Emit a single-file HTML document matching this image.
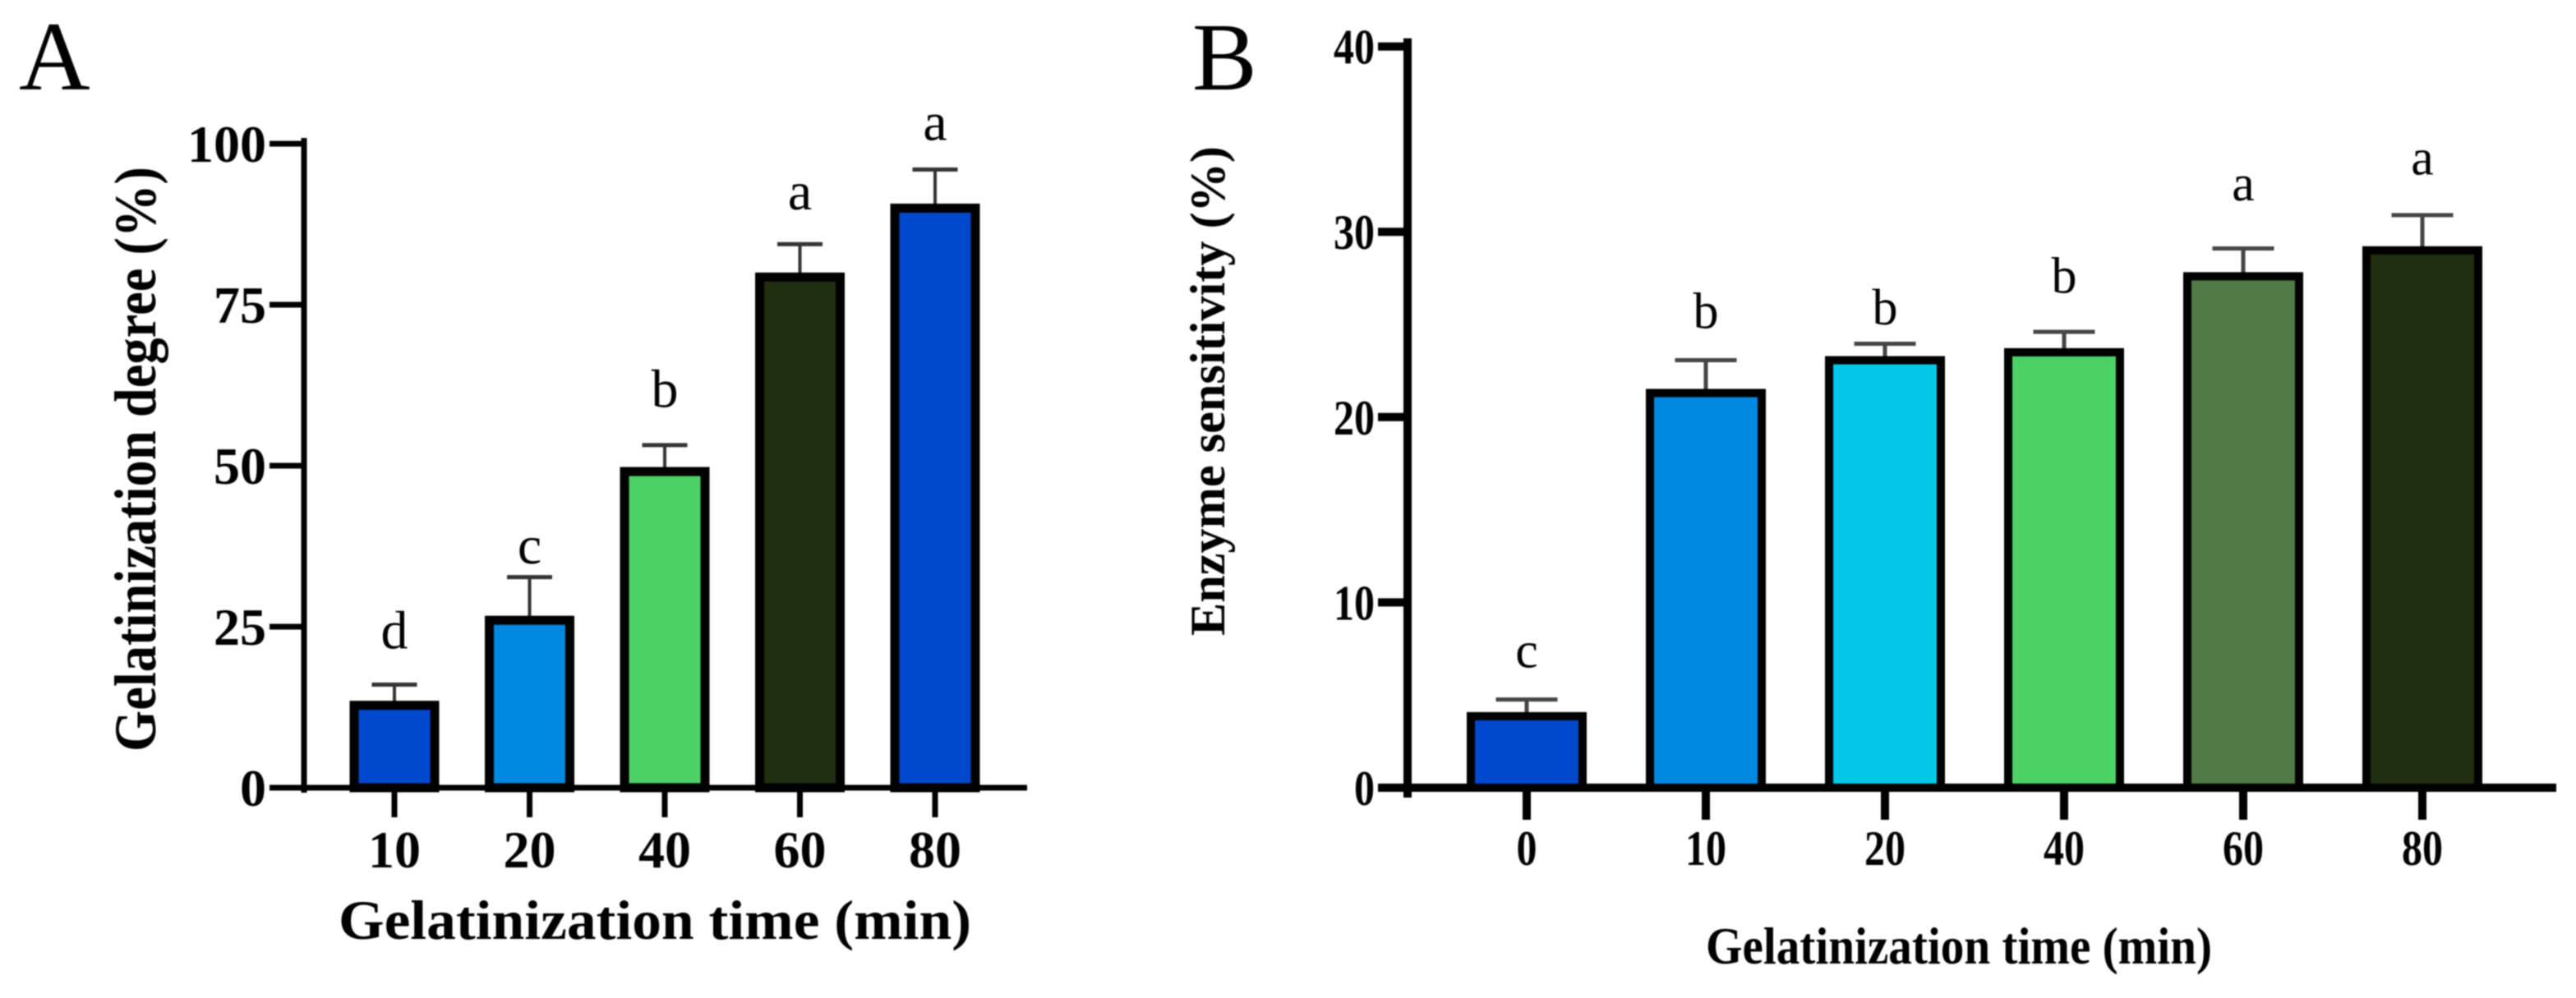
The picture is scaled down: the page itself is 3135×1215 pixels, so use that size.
<!DOCTYPE html>
<html lang="en">
<head>
<meta charset="utf-8">
<title>Gelatinization charts</title>
<style>
  html, body { margin: 0; padding: 0; background: #fff; }
  body { width: 3135px; height: 1215px; overflow: hidden; }
  svg { display: block; filter: blur(0.9px); }
  text { font-family: "Liberation Serif", "Times New Roman", serif; fill: #000; }
  .bold { font-weight: bold; }
</style>
</head>
<body>
<svg id="figure" xmlns="http://www.w3.org/2000/svg" width="3135" height="1215" viewBox="0 0 3135 1215">
  <rect x="0" y="0" width="3135" height="1215" fill="#fff"/>

  <g id="panel-a"></g>
  <g id="panel-b"></g>

  <text x="23" y="109" font-size="120">A</text>
  <text x="1451" y="109" font-size="118">B</text>

  <text class="bold" x="412" y="1143" font-size="68" textLength="770" lengthAdjust="spacingAndGlyphs">Gelatinization time (min)</text>
  <text class="bold" transform="translate(189 915) rotate(-90)" x="0" y="0" font-size="72" textLength="712" lengthAdjust="spacingAndGlyphs">Gelatinization degree (%)</text>

  <text class="bold" x="2076" y="1173" font-size="64" textLength="616" lengthAdjust="spacingAndGlyphs">Gelatinization time (min)</text>
  <text class="bold" transform="translate(1490 774) rotate(-90)" x="0" y="0" font-size="60" textLength="596" lengthAdjust="spacingAndGlyphs">Enzyme sensitivity (%)</text>
</svg>

<script>
// Panel A data
const categoriesA = ['10', '20', '40', '60', '80'];
const valuesA = [12.8, 26.0, 49.1, 79.3, 90.0];
const errorTopsA = [16.0, 32.7, 53.2, 84.4, 96.0];
const lettersA = ['d', 'c', 'b', 'a', 'a'];
const letterLevelsA = [21.6, 34.8, 59.1, 89.8, 100.6];
const colorsA = ['#0049CC', '#0089E0', '#4BD165', '#202F10', '#0049CC'];
const yTicksA = [0, 25, 50, 75, 100];

// Panel B data
const categoriesB = ['0', '10', '20', '40', '60', '80'];
const valuesB = [3.86, 21.3, 23.07, 23.5, 27.6, 29.0];
const errorTopsB = [4.76, 23.07, 23.96, 24.6, 29.1, 30.9];
const lettersB = ['c', 'b', 'b', 'b', 'a', 'a'];
const letterLevelsB = [6.5, 24.8, 25.0, 26.7, 31.7, 33.1];
const colorsB = ['#0049CC', '#0089E0', '#00C8E6', '#4BD165', '#4F7B45', '#202F10'];
const yTicksB = [0, 10, 20, 30, 40];

const SVG_NS = 'http://www.w3.org/2000/svg';

function make(parent, tag, attrs, content) {
  const el = document.createElementNS(SVG_NS, tag);
  for (const k in attrs) el.setAttribute(k, attrs[k]);
  if (content !== undefined) el.textContent = content;
  parent.appendChild(el);
  return el;
}

function drawPanel(root, prefix, cats, vals, tops, letters, levels, colors, ticks, g) {
  const xScale = i => g.x0 + g.step * i;
  const yScale = v => g.y0 - g.pxPerUnit * v;

  cats.forEach((cat, i) => {
    const cx = xScale(i);
    const yTop = yScale(vals[i]);
    const yErr = yScale(tops[i]);

    const stem = make(root, 'line', { x1: cx, x2: cx, y1: yErr, y2: yTop, stroke: g.errColor, 'stroke-width': g.stemW });
    
    

    const cap = make(root, 'line', { x1: cx - g.capW / 2, x2: cx + g.capW / 2, y1: yErr, y2: yErr, stroke: g.errColor, 'stroke-width': g.capT });
    
    

    const bar = make(root, 'rect', { x: cx - g.barW / 2, y: yTop, width: g.barW, height: g.y0 - yTop, fill: colors[i], stroke: '#000', 'stroke-width': g.barStroke });
    
    

    const letter = make(root, 'text', { x: cx, y: yScale(levels[i]), 'font-size': g.letterSize, 'text-anchor': 'middle' }, letters[i]);
    
    

    const tick = make(root, 'line', { x1: cx, x2: cx, y1: g.y0, y2: g.y0 + g.xTickLen, stroke: '#000', 'stroke-width': g.xTickW });
    
    

    const tickAttrs = { x: cx, y: g.xLabelY, 'font-size': g.tickFont, 'text-anchor': 'middle', class: 'bold' };
    if (g.digitW) { tickAttrs.textLength = cat.length * g.digitW; tickAttrs.lengthAdjust = 'spacingAndGlyphs'; }
    const xLabel = make(root, 'text', tickAttrs, cat);
    
    
  });

  ticks.forEach(t => {
    const y = yScale(t);
    const tick = make(root, 'line', { x1: g.axisX - g.yTickLen, x2: g.axisX, y1: y, y2: y, stroke: '#000', 'stroke-width': g.yTickW });
    
    

    const labelAttrs = { x: g.yLabelX, y: y + g.yLabelDy, 'font-size': g.tickFont, 'text-anchor': 'end', class: 'bold' };
    if (g.digitW) { labelAttrs.textLength = String(t).length * g.digitW; labelAttrs.lengthAdjust = 'spacingAndGlyphs'; }
    const label = make(root, 'text', labelAttrs, String(t));
    
    
  });

  const yAxis = make(root, 'line', { x1: g.axisX, x2: g.axisX, y1: yScale(ticks[ticks.length - 1]) - g.axisOver, y2: g.y0 + g.axisUnder, stroke: '#000', 'stroke-width': g.yAxisW });
  
  

  const xAxis = make(root, 'line', { x1: g.axisX - g.yTickLen, x2: g.xEnd, y1: g.y0, y2: g.y0, stroke: '#000', 'stroke-width': g.xAxisW });
  
  
}

drawPanel(document.getElementById('panel-a'), 'panel-a', categoriesA, valuesA, errorTopsA, lettersA, letterLevelsA, colorsA, yTicksA, {
  x0: 480, step: 164.5, y0: 959, pxPerUnit: 7.84,
  barW: 98, barStroke: 11, capW: 55, capT: 5, stemW: 4, errColor: '#333',
  axisX: 370, xEnd: 1250, yAxisW: 7, xAxisW: 7, yTickW: 7, xTickW: 7,
  yTickLen: 42, xTickLen: 36, axisOver: 7, axisUnder: 6,
  tickFont: 64, letterSize: 66, xLabelY: 1056, yLabelX: 324, yLabelDy: 22, digitW: 0
});

drawPanel(document.getElementById('panel-b'), 'panel-b', categoriesB, valuesB, errorTopsB, lettersB, letterLevelsB, colorsB, yTicksB, {
  x0: 1858, step: 218, y0: 959, pxPerUnit: 22.56,
  barW: 136, barStroke: 10, capW: 75, capT: 5, stemW: 5, errColor: '#444',
  axisX: 1713, xEnd: 3111, yAxisW: 10, xAxisW: 10, yTickW: 10, xTickW: 10,
  yTickLen: 36, xTickLen: 39, axisOver: 10, axisUnder: 12,
  tickFont: 60, letterSize: 62, xLabelY: 1053, yLabelX: 1673, yLabelDy: 21, digitW: 25
});
</script>
</body>
</html>
